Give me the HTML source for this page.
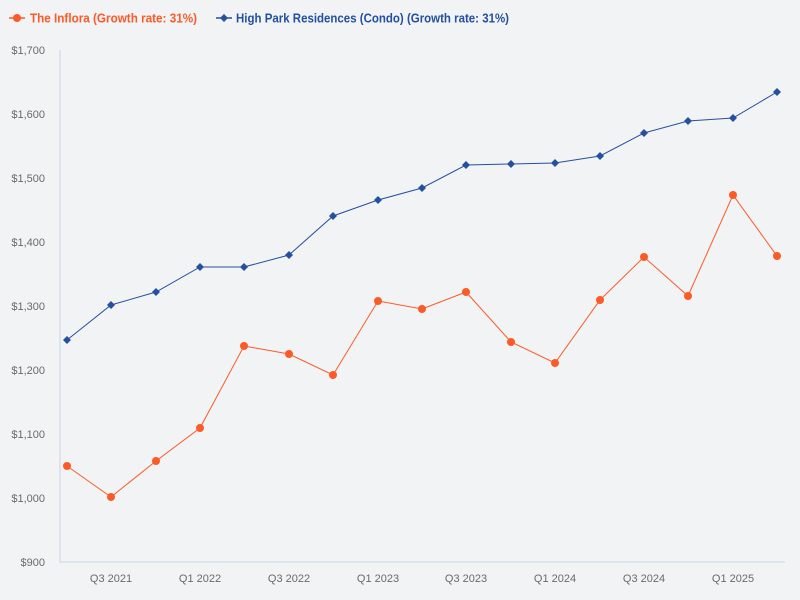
<!DOCTYPE html>
<html><head><style>
body{margin:0;background:#f2f3f5;}
svg{display:block;font-family:"Liberation Sans",sans-serif;}
</style></head><body>
<svg width="800" height="600" viewBox="0 0 800 600">
<rect width="800" height="600" fill="#f2f3f5"/>
<g font-size="12.5" font-weight="bold">
<line x1="9" y1="18" x2="25" y2="18" stroke="#fc5a27" stroke-width="1.5"/><circle cx="17" cy="18" r="4" fill="#fc5a27"/>
<text x="30" y="22.5" fill="#fc5a27" textLength="167" lengthAdjust="spacingAndGlyphs">The Inflora (Growth rate: 31%)</text>
<line x1="216" y1="18" x2="232" y2="18" stroke="#2450a0" stroke-width="1.5"/><path d="M224 14L228 18L224 22L220 18Z" fill="#2450a0"/>
<text x="236" y="22.5" fill="#2450a0" textLength="273" lengthAdjust="spacingAndGlyphs">High Park Residences (Condo) (Growth rate: 31%)</text>
</g>
<g font-size="11" fill="#6a6a6a" text-anchor="end">
<text x="45" y="54">$1,700</text><text x="45" y="118">$1,600</text><text x="45" y="182">$1,500</text><text x="45" y="246">$1,400</text><text x="45" y="310">$1,300</text><text x="45" y="374">$1,200</text><text x="45" y="438">$1,100</text><text x="45" y="502">$1,000</text><text x="45" y="566">$900</text>
</g>
<g font-size="11" fill="#6a6a6a" text-anchor="middle">
<text x="111" y="582">Q3 2021</text><text x="200" y="582">Q1 2022</text><text x="289" y="582">Q3 2022</text><text x="378" y="582">Q1 2023</text><text x="466" y="582">Q3 2023</text><text x="555" y="582">Q1 2024</text><text x="644" y="582">Q3 2024</text><text x="733" y="582">Q1 2025</text>
</g>
<path d="M60 50V562H785" fill="none" stroke="#c8d4e8" stroke-width="1"/>
<polyline fill="none" stroke="#fc5a27" stroke-width="1" points="67,466 111,497 156,461 200,428 244,346 289,354 333,375 378,301 422,309 466,292 511,342 555,363 600,300 644,257 688,296 733,195 777,256"/>
<g fill="#fc5a27">
<circle cx="67" cy="466" r="4"/><circle cx="111" cy="497" r="4"/><circle cx="156" cy="461" r="4"/><circle cx="200" cy="428" r="4"/><circle cx="244" cy="346" r="4"/><circle cx="289" cy="354" r="4"/><circle cx="333" cy="375" r="4"/><circle cx="378" cy="301" r="4"/><circle cx="422" cy="309" r="4"/><circle cx="466" cy="292" r="4"/><circle cx="511" cy="342" r="4"/><circle cx="555" cy="363" r="4"/><circle cx="600" cy="300" r="4"/><circle cx="644" cy="257" r="4"/><circle cx="688" cy="296" r="4"/><circle cx="733" cy="195" r="4"/><circle cx="777" cy="256" r="4"/>
</g>
<polyline fill="none" stroke="#2450a0" stroke-width="1" points="67,340 111,305 156,292 200,267 244,267 289,255 333,216 378,200 422,188 466,165 511,164 555,163 600,156 644,133 688,121 733,118 777,92"/>
<g fill="#2450a0">
<path d="M67 336l4 4-4 4-4-4z"/><path d="M111 301l4 4-4 4-4-4z"/><path d="M156 288l4 4-4 4-4-4z"/><path d="M200 263l4 4-4 4-4-4z"/><path d="M244 263l4 4-4 4-4-4z"/><path d="M289 251l4 4-4 4-4-4z"/><path d="M333 212l4 4-4 4-4-4z"/><path d="M378 196l4 4-4 4-4-4z"/><path d="M422 184l4 4-4 4-4-4z"/><path d="M466 161l4 4-4 4-4-4z"/><path d="M511 160l4 4-4 4-4-4z"/><path d="M555 159l4 4-4 4-4-4z"/><path d="M600 152l4 4-4 4-4-4z"/><path d="M644 129l4 4-4 4-4-4z"/><path d="M688 117l4 4-4 4-4-4z"/><path d="M733 114l4 4-4 4-4-4z"/><path d="M777 88l4 4-4 4-4-4z"/>
</g>
</svg>
</body></html>
